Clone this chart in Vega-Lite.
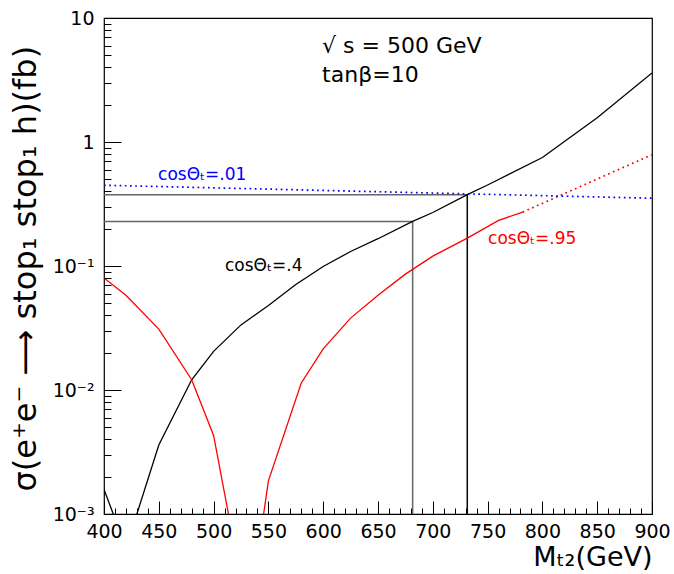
{
  "$schema": "https://vega.github.io/schema/vega-lite/v6.json",
  "width": 548,
  "height": 496,
  "autosize": {"type": "none"},
  "padding": {"left": 104, "top": 18, "right": 22, "bottom": 60},
  "background": "white",
  "config": {
    "font": "DejaVu Sans",
    "view": {"stroke": "black", "strokeWidth": 1.2, "fill": null},
    "axis": {"domainColor": "black", "tickColor": "black", "labelColor": "black", "titleColor": "black", "grid": false, "ticks": true, "zindex": 1, "labelFontWeight": "normal", "titleFontWeight": "normal"}
  },
  "resolve": {"axis": {"x": "independent", "y": "independent"}},
  "datasets": {
    "curves": [
      {"curve": "cos .4", "part": "main", "m": 400, "sigma": 0.00158},
      {"curve": "cos .4", "part": "main", "m": 410, "sigma": 0.00092},
      {"curve": "cos .4", "part": "main", "m": 420, "sigma": 0.0004},
      {"curve": "cos .4", "part": "main", "m": 430, "sigma": 0.001},
      {"curve": "cos .4", "part": "main", "m": 450, "sigma": 0.0036},
      {"curve": "cos .4", "part": "main", "m": 480, "sigma": 0.0121},
      {"curve": "cos .4", "part": "main", "m": 500, "sigma": 0.0205},
      {"curve": "cos .4", "part": "main", "m": 525, "sigma": 0.0335},
      {"curve": "cos .4", "part": "main", "m": 550, "sigma": 0.048},
      {"curve": "cos .4", "part": "main", "m": 575, "sigma": 0.071},
      {"curve": "cos .4", "part": "main", "m": 600, "sigma": 0.099},
      {"curve": "cos .4", "part": "main", "m": 625, "sigma": 0.131},
      {"curve": "cos .4", "part": "main", "m": 650, "sigma": 0.166},
      {"curve": "cos .4", "part": "main", "m": 681.6, "sigma": 0.229},
      {"curve": "cos .4", "part": "main", "m": 700, "sigma": 0.27},
      {"curve": "cos .4", "part": "main", "m": 731.5, "sigma": 0.376},
      {"curve": "cos .4", "part": "main", "m": 750, "sigma": 0.45},
      {"curve": "cos .4", "part": "main", "m": 800, "sigma": 0.75},
      {"curve": "cos .4", "part": "main", "m": 850, "sigma": 1.57},
      {"curve": "cos .4", "part": "main", "m": 900, "sigma": 3.6},
      {"curve": "cos .95", "part": "main", "m": 400, "sigma": 0.08},
      {"curve": "cos .95", "part": "main", "m": 420, "sigma": 0.058},
      {"curve": "cos .95", "part": "main", "m": 450, "sigma": 0.031},
      {"curve": "cos .95", "part": "main", "m": 480, "sigma": 0.0121},
      {"curve": "cos .95", "part": "main", "m": 500, "sigma": 0.0043},
      {"curve": "cos .95", "part": "main", "m": 520, "sigma": 0.0005},
      {"curve": "cos .95", "part": "main", "m": 540, "sigma": 0.00045},
      {"curve": "cos .95", "part": "main", "m": 550, "sigma": 0.00185},
      {"curve": "cos .95", "part": "main", "m": 580, "sigma": 0.0114},
      {"curve": "cos .95", "part": "main", "m": 600, "sigma": 0.0215},
      {"curve": "cos .95", "part": "main", "m": 625, "sigma": 0.038},
      {"curve": "cos .95", "part": "main", "m": 650, "sigma": 0.058},
      {"curve": "cos .95", "part": "main", "m": 675, "sigma": 0.086},
      {"curve": "cos .95", "part": "main", "m": 700, "sigma": 0.12},
      {"curve": "cos .95", "part": "main", "m": 731.5, "sigma": 0.168},
      {"curve": "cos .95", "part": "main", "m": 760, "sigma": 0.233},
      {"curve": "cos .95", "part": "main", "m": 782, "sigma": 0.272},
      {"curve": "cos .95", "part": "ext", "m": 782, "sigma": 0.272},
      {"curve": "cos .95", "part": "ext", "m": 900, "sigma": 0.79},
      {"curve": "cos .01", "part": "ext", "m": 400, "sigma": 0.448},
      {"curve": "cos .01", "part": "ext", "m": 900, "sigma": 0.352}
    ],
    "refs": [
      {"m": 400, "m2": 681.6, "sigma": 0.229, "sigma2": 0.229},
      {"m": 681.6, "m2": 681.6, "sigma": 0.229, "sigma2": 0.001},
      {"m": 400, "m2": 731.5, "sigma": 0.376, "sigma2": 0.376},
      {"m": 731.5, "m2": 731.5, "sigma": 0.376, "sigma2": 0.001}
    ],
    "labels": [
      {"curve": "cos .01", "m": 449.3, "sigma": 0.546, "text": "cosΘₜ=.01"},
      {"curve": "cos .4", "m": 510.4, "sigma": 0.0993, "text": "cosΘₜ=.4"},
      {"curve": "cos .95", "m": 750.4, "sigma": 0.166, "text": "cosΘₜ=.95"}
    ],
    "notes": [
      {"m": 599, "sigma": 5.9, "text": "√ s = 500 GeV"},
      {"m": 599, "sigma": 3.5, "text": "tanβ=10"}
    ]
  },
  "layer": [
    {
      "data": {"name": "refs"},
      "mark": {"type": "rule", "color": "#666666", "strokeWidth": 1.5},
      "encoding": {
        "x": {
          "field": "m", "type": "quantitative",
          "scale": {"domain": [400, 900], "nice": false, "zero": false},
          "axis": {
            "orient": "bottom", "offset": -13, "domain": false, "zindex": 1,
            "title": "Mₜ₂(GeV)", "titleFontSize": 27, "titleAnchor": "end", "titleAlign": "right", "titleX": 548, "titleY": 64, "titleBaseline": "alphabetic",
            "values": [400,450,500,550,600,650,700,750,800,850,900],
            "format": "d",
            "labelOverlap": false, "labelFlush": false, "labelBound": false,
            "labelFontSize": 19, "labelPadding": 8,
            "tickSize": 13, "tickWidth": 1
          }
        },
        "x2": {"field": "m2"},
        "y": {
          "field": "sigma", "type": "quantitative",
          "scale": {"type": "log", "domain": [0.001, 10], "nice": false},
          "axis": {
            "orient": "left", "offset": -17, "domain": false, "zindex": 1,
            "title": "σ(e⁺e⁻ ⟶ stop₁ stop₁ h)(fb)", "titleFontSize": 32, "titleAngle": -90, "titleAlign": "left", "titleBaseline": "middle", "titleX": -96, "titleY": 473,
            "values": [0.001, 0.01, 0.1, 1, 10],
            "labelExpr": "datum.value === 10 ? '10' : datum.value === 1 ? '1' : datum.value === 0.1 ? '10⁻¹' : datum.value === 0.01 ? '10⁻²' : '10⁻³'",
            "labelOverlap": false, "labelFlush": false, "labelBound": false,
            "labelFontSize": 19, "labelPadding": 10,
            "tickSize": 17, "tickWidth": 1
          }
        },
        "y2": {"field": "sigma2"}
      }
    },
    {
      "data": {"name": "refs"},
      "transform": [{"filter": "datum.m === 731.5 && datum.m2 === 731.5"}],
      "mark": {"type": "rule", "color": "black", "strokeWidth": 1.2},
      "encoding": {
        "x": {"field": "m", "type": "quantitative", "axis": null},
        "x2": {"field": "m2"},
        "y": {"field": "sigma", "type": "quantitative", "axis": null},
        "y2": {"field": "sigma2"}
      }
    },
    {
      "data": {"name": "curves"},
      "transform": [{"filter": "datum.part === 'main'"}],
      "mark": {"type": "line", "strokeWidth": 1.3, "clip": true},
      "encoding": {
        "x": {"field": "m", "type": "quantitative", "axis": null},
        "y": {"field": "sigma", "type": "quantitative", "axis": null},
        "detail": {"field": "curve"},
        "color": {"field": "curve", "type": "nominal", "scale": {"domain": ["cos .4", "cos .95", "cos .01"], "range": ["black", "#ff0000", "#0000ff"]}, "legend": null}
      }
    },
    {
      "data": {"name": "curves"},
      "transform": [{"filter": "datum.part === 'ext'"}],
      "mark": {"type": "line", "strokeWidth": 1.7, "strokeDash": [1.7, 3.5], "clip": true},
      "encoding": {
        "x": {"field": "m", "type": "quantitative", "axis": null},
        "y": {"field": "sigma", "type": "quantitative", "axis": null},
        "detail": {"field": "curve"},
        "color": {"field": "curve", "type": "nominal", "legend": null}
      }
    },
    {
      "data": {"name": "labels"},
      "mark": {"type": "text", "align": "left", "baseline": "middle", "fontSize": 17},
      "encoding": {
        "x": {"field": "m", "type": "quantitative", "axis": null},
        "y": {"field": "sigma", "type": "quantitative", "axis": null},
        "text": {"field": "text"},
        "color": {"field": "curve", "type": "nominal", "legend": null}
      }
    },
    {
      "data": {"name": "notes"},
      "mark": {"type": "text", "align": "left", "baseline": "middle", "fontSize": 22, "color": "black"},
      "encoding": {
        "x": {
          "field": "m", "type": "quantitative",
          "axis": {
            "orient": "bottom", "offset": -6, "title": null, "labels": false, "domain": false, "zindex": 1,
            "values": [410,420,430,440,460,470,480,490,510,520,530,540,560,570,580,590,610,620,630,640,660,670,680,690,710,720,730,740,760,770,780,790,810,820,830,840,860,870,880,890],
            "tickSize": 6, "tickWidth": 1
          }
        },
        "y": {
          "field": "sigma", "type": "quantitative",
          "axis": {
            "orient": "left", "offset": -7, "title": null, "labels": false, "domain": false, "zindex": 1,
            "values": [0.002,0.003,0.004,0.005,0.006,0.007,0.008,0.009,0.02,0.03,0.04,0.05,0.06,0.07,0.08,0.09,0.2,0.3,0.4,0.5,0.6,0.7,0.8,0.9,2,3,4,5,6,7,8,9],
            "tickSize": 7, "tickWidth": 1
          }
        },
        "text": {"field": "text"}
      }
    }
  ]
}
